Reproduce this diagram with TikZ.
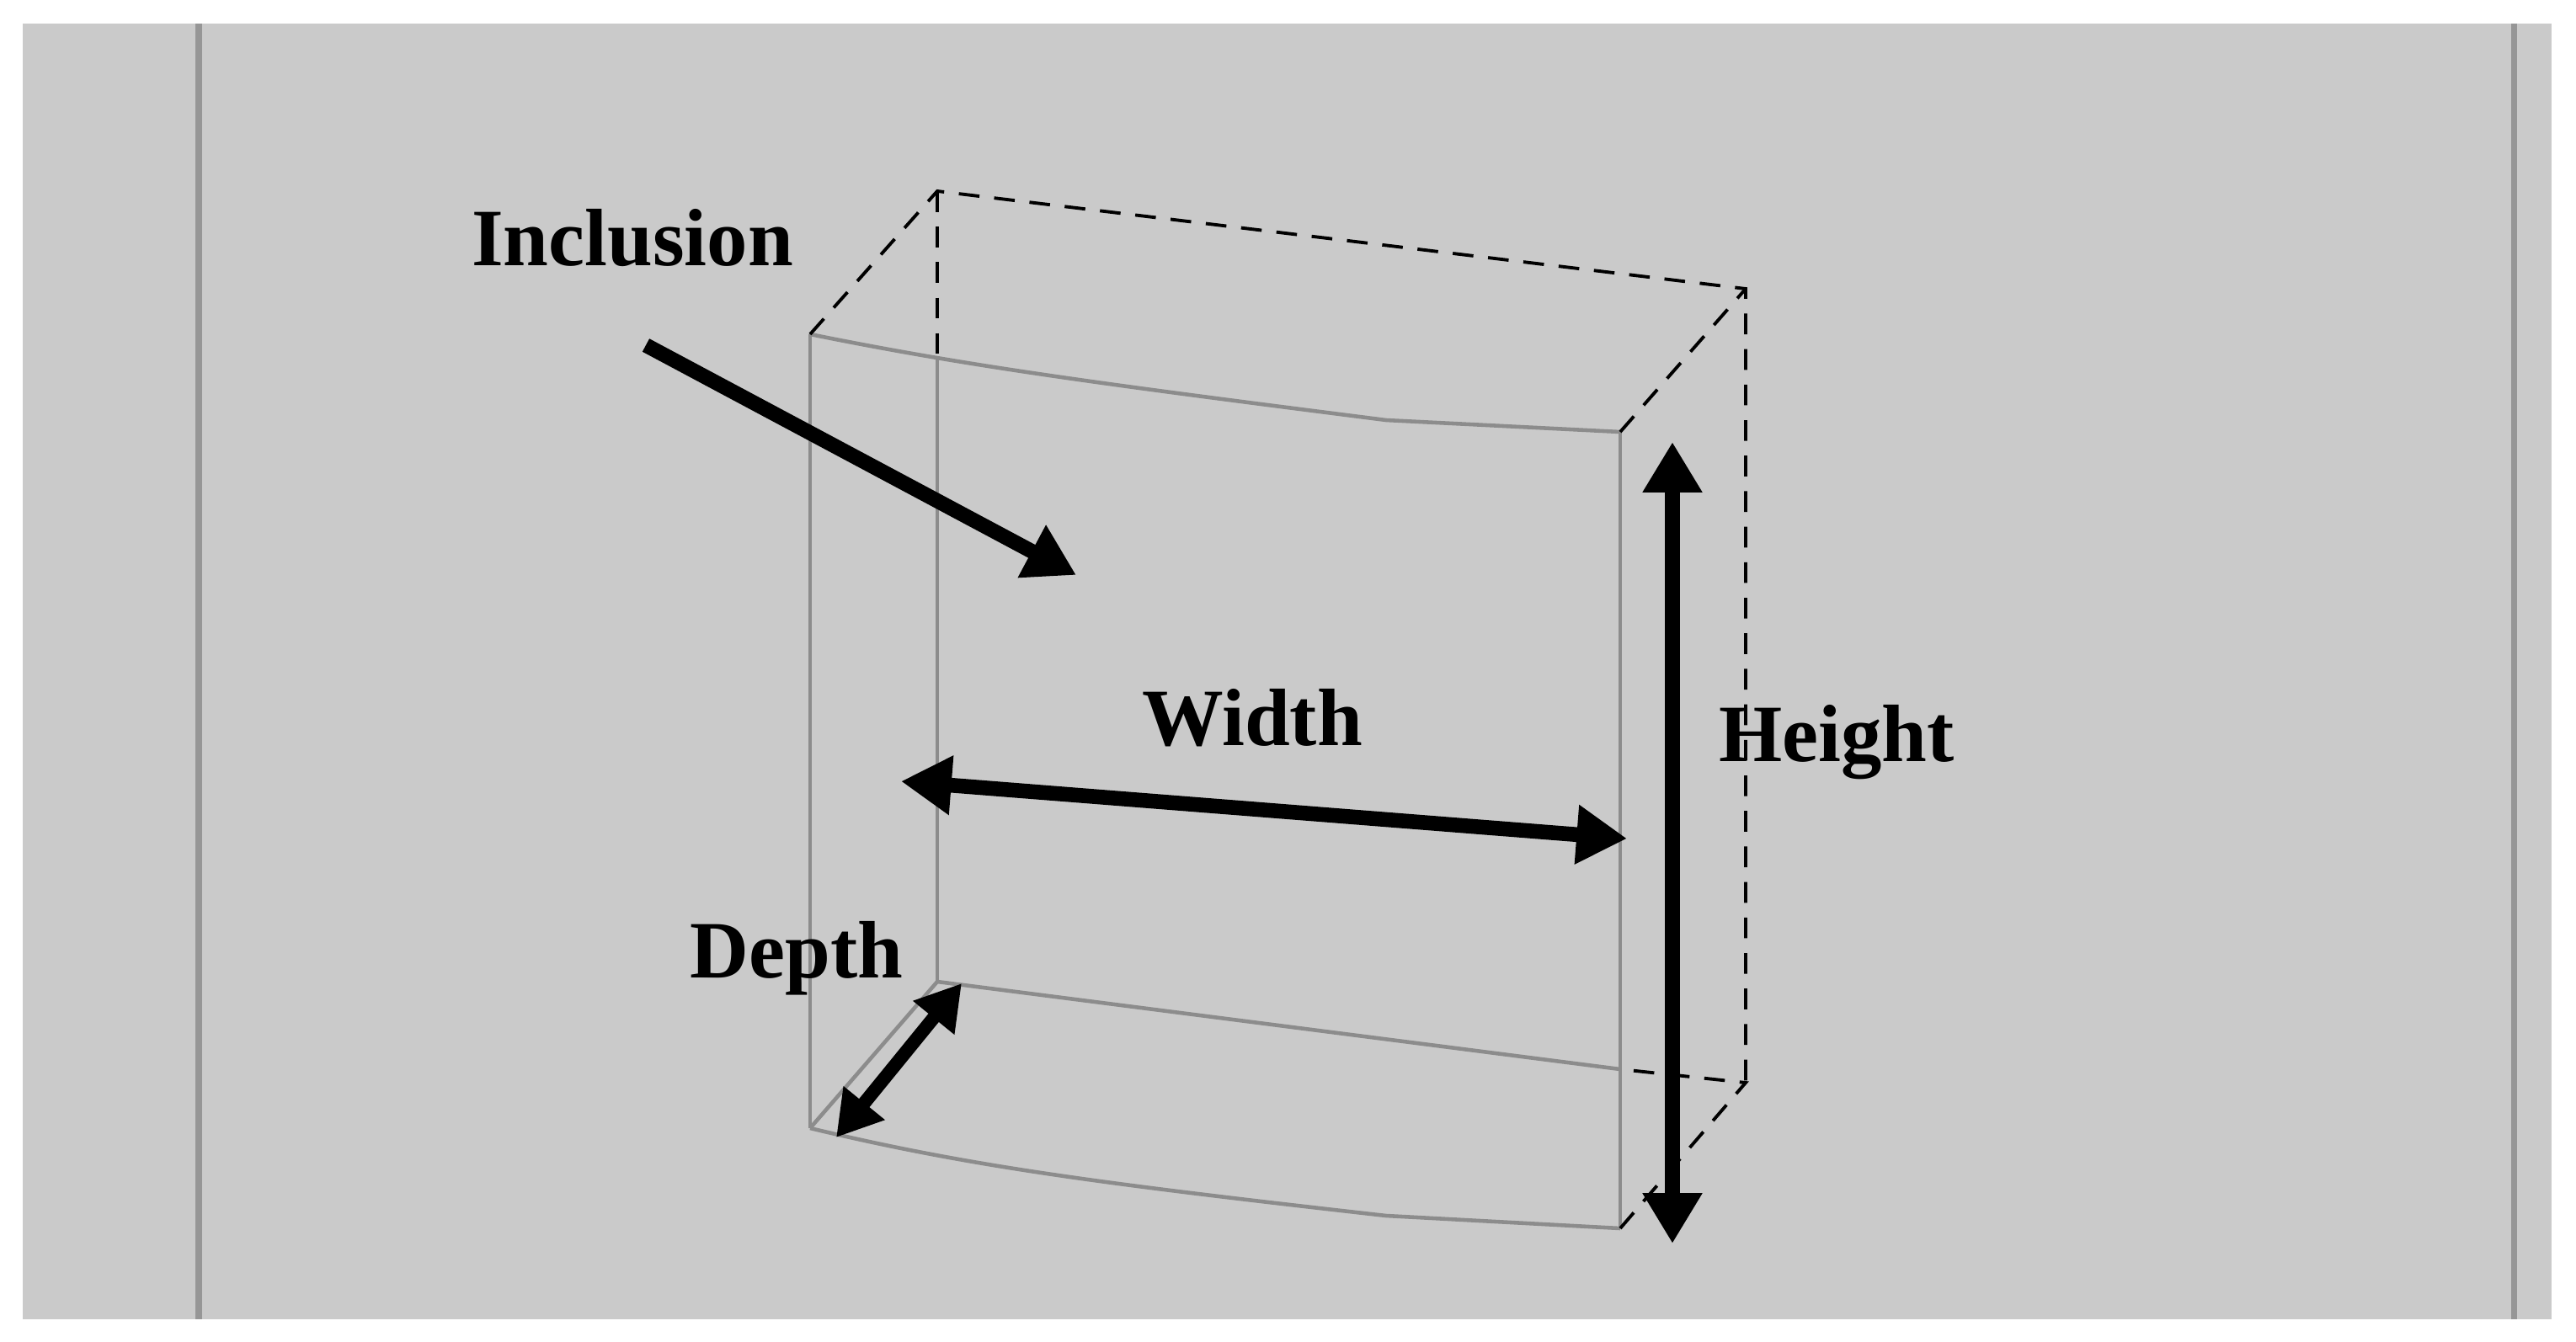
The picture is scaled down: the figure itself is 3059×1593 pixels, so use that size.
\documentclass[tikz,border=0pt]{standalone}
\usepackage{fontspec}
\setmainfont{Liberation Serif}
\usetikzlibrary{arrows.meta}
\definecolor{bg}{RGB}{202,202,202}
\definecolor{edge}{RGB}{140,140,140}
\definecolor{sep}{RGB}{150,150,150}
\begin{document}
\begin{tikzpicture}[x=0.01cm,y=-0.01cm,
  solidedge/.style={draw=edge,line width=1.3pt},
  dashedge/.style={draw=black,line width=1.1pt,dash pattern=on 7pt off 5pt},
  bigarrow/.style={line width=5pt,-{Triangle[length=17pt,width=19pt]}},
  dblarrow/.style={line width=5pt,{Triangle[length=17pt,width=19pt]}-{Triangle[length=17pt,width=19pt]}},
  lbl/.style={font=\fontsize{27.5}{30}\selectfont\bfseries,inner sep=0pt}]
\useasboundingbox (0,0) rectangle (3059,1593);
\fill[white] (0,0) rectangle (3059,1593);
\fill[bg] (27,28) rectangle (3030,1567);
\draw[sep,line width=2pt] (236,28) -- (236,1567);
\draw[sep,line width=2pt] (2985,28) -- (2985,1567);
% corners
\coordinate (flt) at (962,397);
\coordinate (flb) at (962,1340);
\coordinate (blt) at (1113,227);
\coordinate (blb) at (1113,1166);
\coordinate (blm) at (1113,424);
\coordinate (frt) at (1924,513);
\coordinate (frb) at (1924,1459);
\coordinate (brt) at (2073,343);
\coordinate (brb) at (2073,1286);
\coordinate (bbm) at (1924,1270);
% solid edges
\draw[solidedge] (flt) -- (flb);
\draw[solidedge] (frt) -- (frb);
\draw[solidedge] (blm) -- (blb);
\draw[solidedge] (blb) -- (flb);
\draw[solidedge] (flt) .. controls (1150,435) and (1300,455) .. (1646,499) -- (frt);
\draw[solidedge] (flb) .. controls (1150,1385) and (1300,1405) .. (1646,1444) -- (frb);
\draw[solidedge] (blb) -- (bbm);
% dashed edges
\draw[dashedge] (flt) -- (blt) -- (brt) -- (brb);
\draw[dashedge] (blt) -- (blm);
\draw[dashedge] (frt) -- (brt);
\draw[dashedge] (frb) -- (brb) -- (bbm);
% labels
\node[lbl] (inc) at (751,283) {Inclusion};
\node[lbl] (wid) at (1487,853) {Width};
\node[lbl] (hei) at (2181,882) {Height};
\node[lbl] (dep) at (946,1138) {Depth};
% arrows
\coordinate (ia) at (767,410);
\coordinate (ib) at (1278,683);
\coordinate (wa) at (1070,928);
\coordinate (wb) at (1932,996);
\coordinate (ha) at (1986,525);
\coordinate (hb) at (1986,1477);
\coordinate (da) at (1142,1168);
\coordinate (db) at (993,1351);
\draw[bigarrow] (ia) -- (ib);
\draw[dblarrow] (wa) -- (wb);
\draw[dblarrow] (ha) -- (hb);
\draw[line width=4.5pt,{Triangle[length=15pt,width=17pt]}-{Triangle[length=15pt,width=17pt]}] (da) -- (db);
\end{tikzpicture}
\end{document}
